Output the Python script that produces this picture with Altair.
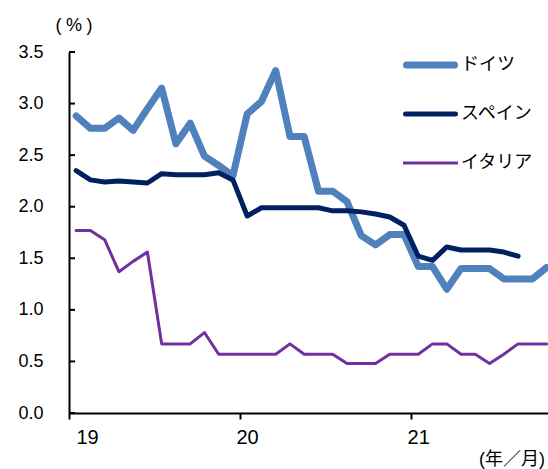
import json

import altair as alt
import pandas as pd

# ---- data -------------------------------------------------------------
months = pd.period_range("2019-01", "2021-10", freq="M").strftime("%Y-%m").tolist()
year_labels = ["19", "20", "21"]
y_ticks = [0.0, 0.5, 1.0, 1.5, 2.0, 2.5, 3.0, 3.5]

series_names = ["ドイツ", "スペイン", "イタリア"]
germany = [2.88, 2.76, 2.76, 2.86, 2.74, 2.95, 3.15, 2.61, 2.81, 2.49, 2.40, 2.30,
           2.90, 3.02, 3.32, 2.68, 2.68, 2.15, 2.15, 2.05, 1.72, 1.63, 1.73, 1.73,
           1.42, 1.42, 1.20, 1.40, 1.40, 1.40, 1.30, 1.30, 1.30, 1.41]
spain = [2.35, 2.26, 2.24, 2.25, 2.24, 2.23, 2.32, 2.31, 2.31, 2.31, 2.33, 2.26,
         1.91, 1.99, 1.99, 1.99, 1.99, 1.99, 1.96, 1.96, 1.95, 1.93, 1.90, 1.82,
         1.52, 1.48, 1.61, 1.58, 1.58, 1.58, 1.56, 1.52]
italy = [1.77, 1.77, 1.68, 1.37, 1.47, 1.56, 0.67, 0.67, 0.67, 0.78, 0.57, 0.57,
         0.57, 0.57, 0.57, 0.67, 0.57, 0.57, 0.57, 0.48, 0.48, 0.48, 0.57, 0.57,
         0.57, 0.67, 0.67, 0.57, 0.57, 0.48, 0.57, 0.67, 0.67, 0.67]

# ---- style ------------------------------------------------------------
FONT = 'Liberation Sans, "Noto Sans CJK JP", sans-serif'
colors = ["#4F81BD", "#002060", "#7030A0"]
widths = [7, 5, 3]
W, H = 479, 361
X_MAX = 33.6  # visible months on the category axis

x_enc = alt.X(
    "pos:Q",
    scale=alt.Scale(domain=[0, X_MAX], nice=False, zero=False),
    axis=alt.Axis(
        values=[0, 12, 24],
        labelExpr=f"{json.dumps(year_labels)}[round(datum.value / 12)]",
        title=None, grid=False,
        tickSize=6, tickWidth=2, tickColor="black",
        domainColor="black", domainWidth=2,
        labelOffset=7, labelPadding=8, labelFontSize=20,
        labelFont=FONT, labelColor="black", labelAngle=0,
    ),
)
y_enc = alt.Y(
    "value:Q",
    scale=alt.Scale(domain=[0, 3.5], nice=False, zero=True),
    axis=alt.Axis(
        values=y_ticks, format=".1f", title=None, grid=False,
        tickSize=0, domainColor="black", domainWidth=2,
        labelPadding=26, labelFontSize=18, labelFont=FONT, labelColor="black",
    ),
)

layers = []

# one line per country, drawn in series order
for name, vals, color, width in zip(series_names, [germany, spain, italy], colors, widths):
    df = pd.DataFrame({"month": months[:len(vals)], "value": vals})
    df["pos"] = df.index + 0.5  # centre of each monthly category
    df["series"] = name
    layers.append(
        alt.Chart(df)
        .mark_line(color=color, strokeWidth=width, strokeJoin="round",
                   strokeCap="round", clip=True)
        .encode(x=x_enc, y=y_enc, order="pos:Q")
    )

# inward tick stubs on the value axis
layers.append(
    alt.Chart(pd.DataFrame({"value": y_ticks}))
    .mark_rule(color="black", strokeWidth=2)
    .encode(y=y_enc, x=alt.value(0), x2=alt.value(6))
)

# legend entries
one = alt.Data(values=[{}])
leg_top, leg_gap = 13, 49
for i, (name, color, width) in enumerate(zip(series_names, colors, widths)):
    yy = leg_top + i * leg_gap
    cap = "round" if width > 3 else "butt"
    inset = width / 2 if width > 3 else 0
    layers.append(
        alt.Chart(one).mark_rule(color=color, strokeWidth=width, strokeCap=cap)
        .encode(x=alt.value(334 + inset), x2=alt.value(389 - inset), y=alt.value(yy))
    )
    layers.append(
        alt.Chart(one).mark_text(text=name, align="left", baseline="middle",
                                 font=FONT, fontSize=18, color="black")
        .encode(x=alt.value(392), y=alt.value(yy))
    )

# unit labels
layers.append(
    alt.Chart(one).mark_text(text="(\u2005%\u2005)", align="center", baseline="middle",
                             font=FONT, fontSize=18, color="black")
    .encode(x=alt.value(5), y=alt.value(-26))
)
layers.append(
    alt.Chart(one).mark_text(text="(年／月)", align="left", baseline="alphabetic",
                             font=FONT, fontSize=18, color="black")
    .encode(x=alt.value(410), y=alt.value(413))
)

chart = (
    alt.layer(*layers)
    .properties(
        width=W, height=H,
        autosize=alt.AutoSizeParams(type="none"),
        padding={"left": 69, "top": 52, "right": 0, "bottom": 56},
        background="white",
    )
    .configure_view(strokeWidth=0)
)

chart.save("out.html", embed_options={"renderer": "svg", "actions": False})
